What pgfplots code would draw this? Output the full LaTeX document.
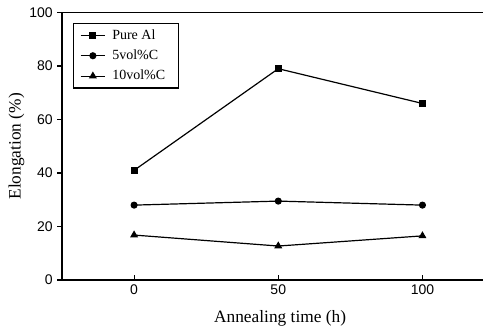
\documentclass[border=0pt]{standalone}
\usepackage{fontspec}
\setmainfont{Liberation Serif}
\newfontfamily\sansf{Liberation Sans}
\usepackage{pgfplots}
\pgfplotsset{compat=1.18}
\begin{document}
\begin{tikzpicture}
\begin{axis}[
  scale only axis,
  width=315.75pt, height=200.6pt,
  anchor=south west, at={(0,0)},
  xmin=-25, xmax=121, ymin=0, ymax=100,
  axis lines=left,
  axis line style={-, line width=1pt},
  xtick={0,50,100}, ytick={0,20,40,60,80,100},
  xtick align=inside, ytick align=outside,
  major tick length=3.5pt,
  tick style={line width=0.8pt, black},
  /pgf/number format/assume math mode=true,
  tick label style={font=\sansf\fontsize{10.5}{12}\selectfont},
  xlabel={Annealing time (h)},
  ylabel={Elongation (\%)},
  label style={font=\fontsize{13}{15}\selectfont},
  xlabel style={at={(axis description cs:0.518,-0.145)}, anchor=center},
  ylabel style={at={(axis description cs:-0.108,0.5)}, anchor=center},
  legend style={at={(axis description cs:0.026,0.961)}, anchor=north west,
    draw=black, line width=0.8pt, font=\fontsize{10.5}{12}\selectfont,
    inner xsep=5pt, inner ysep=2.5pt, row sep=2.5pt,
    nodes={inner xsep=5pt}},
  legend image code/.code={\draw[mark repeat=2,mark phase=2,#1] plot coordinates {(0cm,0cm) (0.32cm,0cm) (0.64cm,0cm)};},
  legend cell align=left,
  every axis plot/.append style={line width=0.9pt, black},
]
\addplot[mark=square*, mark size=2.2pt] coordinates {(0,41) (50,79) (100,66)};
\addlegendentry{Pure Al}
\addplot[mark=*, mark size=2.2pt] coordinates {(0,28) (50,29.5) (100,28)};
\addlegendentry{5vol\%C}
\addplot[mark=triangle*, mark size=2.6pt] coordinates {(0,16.8) (50,12.7) (100,16.5)};
\addlegendentry{10vol\%C}
\draw[line width=1pt] (rel axis cs:0,1) -- (rel axis cs:1,1);
\end{axis}
\pgfresetboundingbox
\path (-46.5pt,-39pt) rectangle (316.5pt,210pt);
\end{tikzpicture}
\end{document}
